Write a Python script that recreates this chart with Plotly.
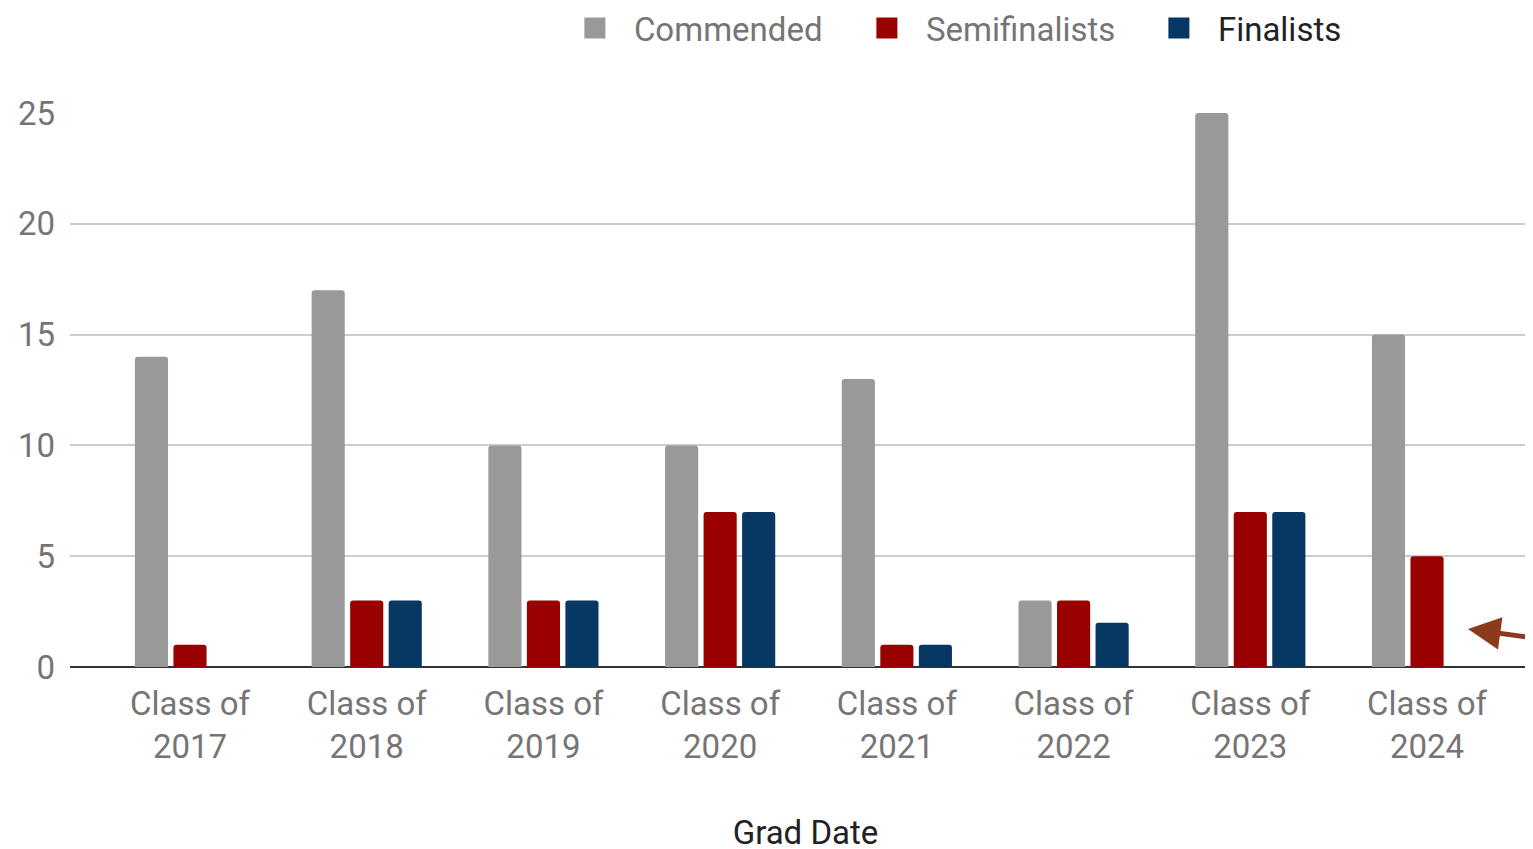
import plotly.graph_objects as go

categories = ["Class of<br>2017", "Class of<br>2018", "Class of<br>2019", "Class of<br>2020",
              "Class of<br>2021", "Class of<br>2022", "Class of<br>2023", "Class of<br>2024"]
commended = [14, 17, 10, 10, 13, 3, 25, 15]
semifinalists = [1, 3, 3, 7, 1, 3, 7, 5]
finalists = [0, 3, 3, 7, 1, 2, 7, None]
series_names = ["Commended", "Semifinalists", "Finalists"]
series_colors = ["#999999", "#990000", "#073763"]
y_ticks = [0, 5, 10, 15, 20, 25]

FONT = "Roboto"
FS = 33
GRAY_TXT = "#757575"

fig = go.Figure()
xs = list(range(len(categories)))
for name, vals, col in zip(series_names, [commended, semifinalists, finalists], series_colors):
    fig.add_trace(go.Bar(x=xs, y=vals, name=name, showlegend=False,
                         marker=dict(color=col, line=dict(width=0))))

# legend entries (large square swatches)
for name, col in zip(series_names, series_colors):
    label = name if name != "Finalists" else '<span style="color:#222222">Finalists</span>'
    fig.add_trace(go.Scatter(x=[None], y=[None], mode="markers", name=label,
                             marker=dict(symbol="square", size=16, color=col,
                                         line=dict(color=col, width=5))))

fig.update_layout(
    width=1533, height=849,
    margin=dict(l=62, r=0, t=105, b=190),
    paper_bgcolor="white", plot_bgcolor="white",
    barmode="group", bargap=0.346, bargroupgap=0.14,
    barcornerradius=3,
    font=dict(family=FONT, size=FS, color=GRAY_TXT),
    legend=dict(orientation="h", xref="container", yref="container",
                x=0.3574, y=0.9764, xanchor="left", yanchor="middle",
                font=dict(family=FONT, size=FS, color=GRAY_TXT),
                itemwidth=68, itemsizing="trace", entrywidth=209, entrywidthmode="pixels",
                traceorder="normal", bgcolor="rgba(0,0,0,0)"),
    xaxis=dict(tickmode="array", tickvals=xs, ticktext=categories,
               range=[-0.679, 7.645], showgrid=False, showline=False, zeroline=False,
               automargin=False,
               ticks="", ticklabelstandoff=14, tickfont=dict(family=FONT, size=FS, color=GRAY_TXT),
               title=dict(text="Grad Date", font=dict(family=FONT, size=FS, color="#222222"),
                          standoff=55)),
    yaxis=dict(range=[0, 25], tickvals=y_ticks, showgrid=True, gridcolor="#cccccc",
               gridwidth=1.5, zeroline=True, zerolinecolor="#333333", zerolinewidth=2,
               showline=False, ticks="", ticklabelstandoff=14, automargin=False,
               tickfont=dict(family=FONT, size=FS, color=GRAY_TXT)),
)

fig.add_annotation(xref="paper", yref="y", x=(1460 - 62) / 1471, y=1.715,
                   ax=80, ay=10, axref="pixel", ayref="pixel",
                   showarrow=True, arrowhead=2, arrowsize=1.3, arrowwidth=5,
                   arrowcolor="#8b3a1a", text="")

fig.write_html("out.html")
